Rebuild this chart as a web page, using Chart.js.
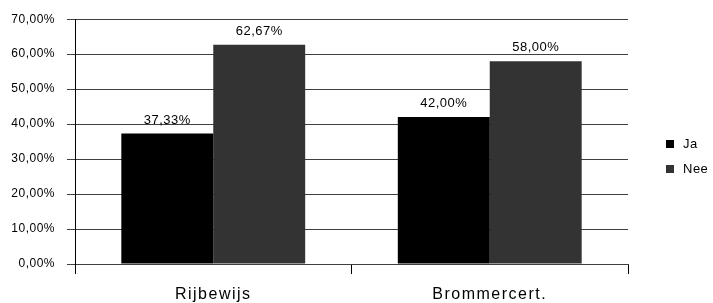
<!DOCTYPE html>
<html>
<head>
<meta charset="utf-8">
<script src="https://cdn.jsdelivr.net/npm/chart.js@4/dist/chart.umd.min.js"></script>
<style>
  html, body { margin: 0; padding: 0; background: #fff; }
  canvas { display: block; }
</style>
</head>
<body>
<canvas id="chart" width="713" height="303"></canvas>
<script>
// Chart values
const categories = ['Rijbewijs', 'Brommercert.'];
const seriesNames = ['Ja', 'Nee'];
const jaValues = [37.33, 42.00];
const neeValues = [62.67, 58.00];
const yTicks = [0, 10, 20, 30, 40, 50, 60, 70];

const fmt = v => v.toFixed(2).replace('.', ',') + '%';
const fontFamily = '"Liberation Sans", Arial, sans-serif';

// the original text is rendered a bit wider than Arial
const spacing = {
    id: 'spacing',
    beforeDraw(chart) { chart.ctx.letterSpacing = '0.5px'; }
};

// Value labels above each bar
const valueLabels = {
    id: 'valueLabels',
    afterDatasetsDraw(chart) {
        const ctx = chart.ctx;
        ctx.save();
        ctx.font = '13px ' + fontFamily;
        ctx.fillStyle = '#000';
        ctx.textAlign = 'center';
        ctx.textBaseline = 'bottom';
        chart.data.datasets.forEach((ds, i) => {
            chart.getDatasetMeta(i).data.forEach((bar, j) => {
                ctx.fillText(fmt(ds.data[j]), bar.x, bar.y - 7);
            });
        });
        ctx.restore();
    }
};

// Category names under the x axis, spaced out like the original
const categoryLabels = {
    id: 'categoryLabels',
    afterDraw(chart) {
        const ctx = chart.ctx;
        const xScale = chart.scales.x;
        ctx.save();
        ctx.font = '16px ' + fontFamily;
        ctx.letterSpacing = '1.5px';
        ctx.fillStyle = '#000';
        ctx.textAlign = 'center';
        ctx.textBaseline = 'middle';
        chart.data.labels.forEach((lab, i) => {
            ctx.fillText(lab, xScale.getPixelForValue(i), chart.chartArea.bottom + 31);
        });
        ctx.restore();
    }
};

// Legend at the right, next to the plot
const sideLegend = {
    id: 'sideLegend',
    afterDraw(chart) {
        const ctx = chart.ctx;
        const area = chart.chartArea;
        const x = area.right + 38;
        const y0 = 144;
        ctx.save();
        ctx.font = '13px ' + fontFamily;
        ctx.textBaseline = 'middle';
        chart.data.datasets.forEach((ds, i) => {
            const y = y0 + i * 25;
            ctx.fillStyle = ds.backgroundColor;
            ctx.fillRect(x, y - 4, 8, 8);
            ctx.fillStyle = '#000';
            ctx.fillText(ds.label, x + 17, y);
        });
        ctx.restore();
    }
};

const ctx = document.getElementById('chart').getContext('2d');
new Chart(ctx, {
    type: 'bar',
    data: {
        labels: categories,
        datasets: [{
            label: seriesNames[0],
            data: jaValues,
            backgroundColor: '#000000',
            barPercentage: 1,
            categoryPercentage: 0.665
        }, {
            label: seriesNames[1],
            data: neeValues,
            backgroundColor: '#333333',
            barPercentage: 1,
            categoryPercentage: 0.665
        }]
    },
    options: {
        responsive: false,
        animation: false,
        layout: { padding: { top: 18, right: 85, left: 0, bottom: 0 } },
        plugins: {
            legend: { display: false },
            tooltip: { enabled: false }
        },
        scales: {
            x: {
                afterFit(scale) { scale.height = 39; },
                grid: {
                    offset: true,
                    drawOnChartArea: true,
                    color: c => c.index === categories.length ? '#000' : 'rgba(0,0,0,0)',
                    tickColor: '#000',
                    tickLength: 10
                },
                border: { color: '#404040' },
                ticks: { display: false }
            },
            y: {
                min: 0,
                max: 70,
                afterFit(scale) { scale.width = 75; },
                afterBuildTicks(scale) { scale.ticks = yTicks.map(v => ({ value: v })); },
                grid: {
                    color: '#404040',
                    tickColor: '#404040',
                    tickLength: 8
                },
                border: { color: '#000' },
                ticks: {
                    color: '#000',
                    padding: 12,
                    font: { family: fontFamily, size: 12 },
                    callback: v => fmt(v)
                }
            }
        }
    },
    plugins: [spacing, valueLabels, categoryLabels, sideLegend]
});
</script>
</body>
</html>
